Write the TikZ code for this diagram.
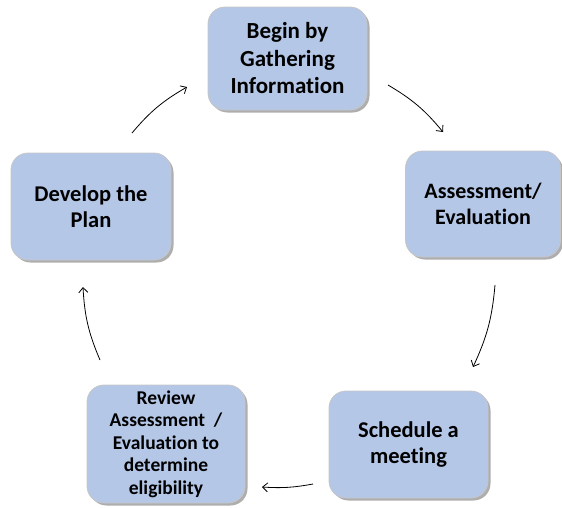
\documentclass[tikz,border=0pt]{standalone}
\usepackage{fontspec}
\setmainfont{Carlito}[Ligatures=NoCommon]
\usetikzlibrary{arrows.meta,shadows}
\definecolor{boxfill}{HTML}{B4C7E7}
\begin{document}
\begin{tikzpicture}[x=1pt,y=-1pt,
  stepbox/.style={draw=gray!45, line width=0.8pt, fill=boxfill, rounded corners=17pt,
    inner sep=0pt, align=center, font=\bfseries,
    drop shadow={shadow xshift=2.5pt, shadow yshift=-2.5pt, opacity=0.45, fill=black!70}},
  cyc/.style={line width=0.8pt, -{Straight Barb[length=5pt,width=9pt,line width=0.8pt]}}]
\useasboundingbox (0,0) rectangle (562,507);
\node[stepbox, minimum width=159pt, minimum height=103pt, font=\bfseries\fontsize{23}{27.5}\selectfont] (gather) at (287.5,58.5) {Begin by\\Gathering\\Information};
\node[stepbox, minimum width=155pt, minimum height=106pt, font=\bfseries\fontsize{22}{26}\selectfont] (assess) at (483,204) {Assessment/\\Evaluation};
\node[stepbox, minimum width=159pt, minimum height=107pt, font=\bfseries\fontsize{22.5}{26}\selectfont] (meet) at (408.5,444.5) {Schedule a\\meeting};
\node[stepbox, minimum width=158pt, minimum height=118pt, font=\bfseries\fontsize{19.5}{22.5}\selectfont] (review) at (166,444) {Review\\Assessment~~/\\Evaluation to\\determine\\eligibility};
\node[stepbox, minimum width=160pt, minimum height=107pt, font=\bfseries\fontsize{22.5}{26}\selectfont] (plan) at (91,206.5) {Develop the\\Plan};
\coordinate (a1s) at (132,133); \coordinate (a1e) at (187,87);
\coordinate (a2s) at (388,85);  \coordinate (a2e) at (443,132);
\coordinate (a3s) at (495,285); \coordinate (a3e) at (473,367);
\coordinate (a4s) at (313,484); \coordinate (a4e) at (262,487);
\coordinate (a5s) at (100,360); \coordinate (a5e) at (83,287);
\draw[cyc] (a1s) to[bend left=10] (a1e);
\draw[cyc] (a2s) to[bend left=10] (a2e);
\draw[cyc] (a3s) to[bend left=10] (a3e);
\draw[cyc] (a4s) to[bend left=7] (a4e);
\draw[cyc] (a5s) to[bend left=10] (a5e);
\end{tikzpicture}
\end{document}
